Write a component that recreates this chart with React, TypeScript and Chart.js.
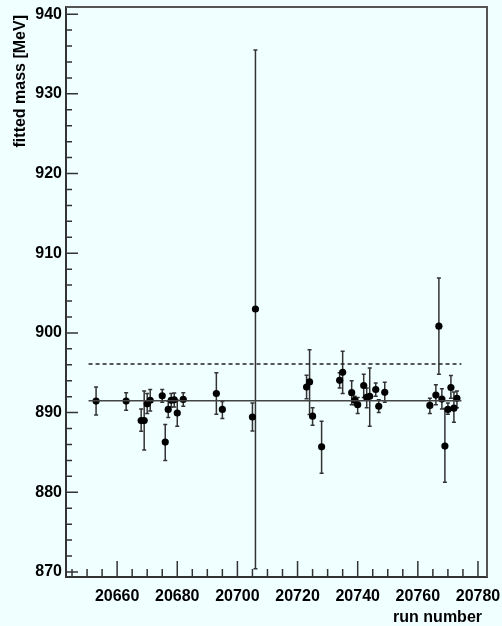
import React, { useEffect, useRef } from "react";
import { Chart, registerables } from "chart.js";

Chart.register(...registerables);

const runs = [20653, 20663, 20668, 20669, 20670, 20671, 20675, 20676, 20677, 20678, 20679, 20680, 20682, 20693, 20695, 20705, 20706, 20723, 20724, 20725, 20728, 20734, 20735, 20738, 20739, 20740, 20742, 20743, 20744, 20746, 20747, 20749, 20764, 20766, 20767, 20768, 20769, 20770, 20771, 20772, 20773];
const mass = [891.45, 891.45, 889.0, 889.0, 891.1, 891.55, 892.1, 886.3, 890.4, 891.55, 891.6, 889.95, 891.65, 892.4, 890.4, 889.45, 903.0, 893.2, 893.85, 889.55, 885.7, 894.05, 895.05, 892.5, 891.55, 891.0, 893.4, 891.9, 892.05, 892.9, 890.8, 892.55, 890.9, 892.2, 900.85, 891.7, 885.8, 890.4, 893.15, 890.55, 891.8];
const massLow = [889.7, 890.3, 887.65, 885.3, 889.9, 890.2, 891.3, 884.0, 889.4, 890.7, 890.7, 888.3, 890.8, 889.8, 889.25, 887.7, 870.4, 891.75, 889.75, 888.4, 882.4, 893.1, 892.4, 891.0, 891.0, 889.9, 891.9, 890.6, 888.3, 892.05, 890.0, 891.3, 889.9, 891.0, 894.8, 890.45, 881.25, 889.8, 891.8, 888.8, 890.6];
const massHigh = [893.2, 892.5, 890.45, 892.7, 892.4, 892.9, 892.9, 888.5, 891.45, 892.4, 892.45, 891.55, 892.5, 895.0, 891.4, 891.2, 935.5, 894.7, 897.9, 890.6, 888.9, 895.0, 897.7, 894.0, 892.05, 891.9, 894.8, 893.1, 895.6, 893.7, 891.6, 893.8, 891.8, 893.5, 906.9, 893.0, 890.5, 891.2, 894.65, 892.6, 892.7];

const meanRange = [20650.5, 20774.5];
const meanValue = 891.5;
const limitValue = 896.1;

const yTicks = [870, 880, 890, 900, 910, 920, 930, 940];
const xTicks = [20660, 20680, 20700, 20720, 20740, 20760, 20780];

const X_MIN = 20643;
const X_MAX = 20783;
const Y_MIN = 869.37;
const Y_MAX = 940.9;

const FONT = "'Liberation Sans', Arial, Helvetica, sans-serif";

const rootPlugin = {
  id: "rootStyle",
  beforeDraw(chart: any) {
    const { ctx } = chart;
    ctx.save();
    ctx.fillStyle = "#f0ffff";
    ctx.fillRect(0, 0, chart.width, chart.height);
    ctx.restore();
  },
  beforeDatasetsDraw(chart: any) {
    const { ctx, scales } = chart;
    const xs = scales.x;
    const ys = scales.y;
    ctx.save();
    ctx.strokeStyle = "#333";
    ctx.lineWidth = 1.5;
    for (let i = 0; i < runs.length; i++) {
      const px = xs.getPixelForValue(runs[i]);
      const lo = ys.getPixelForValue(massLow[i]);
      const hi = ys.getPixelForValue(massHigh[i]);
      ctx.beginPath();
      ctx.moveTo(px, lo);
      ctx.lineTo(px, hi);
      ctx.moveTo(px - 2, lo);
      ctx.lineTo(px + 2, lo);
      ctx.moveTo(px - 2, hi);
      ctx.lineTo(px + 2, hi);
      ctx.stroke();
    }
    ctx.restore();
  },
  afterDraw(chart: any) {
    const { ctx, scales, chartArea } = chart;
    const xs = scales.x;
    const ys = scales.y;
    ctx.save();
    ctx.strokeStyle = "#555";
    ctx.lineWidth = 2;
    ctx.beginPath();
    ctx.moveTo(chartArea.left, chartArea.top);
    ctx.lineTo(chartArea.right, chartArea.top);
    ctx.lineTo(chartArea.right, chartArea.bottom);
    ctx.stroke();
    ctx.strokeStyle = "#333";
    ctx.lineWidth = 1.5;
    ctx.beginPath();
    for (let v = 870; v <= 940; v += 2) {
      const py = ys.getPixelForValue(v);
      const len = v % 10 === 0 ? 12 : 6;
      ctx.moveTo(chartArea.left, py);
      ctx.lineTo(chartArea.left + len, py);
    }
    for (let v = 20645; v <= 20780; v += 5) {
      const px = xs.getPixelForValue(v);
      const len = v % 20 === 0 ? 16 : 8;
      ctx.moveTo(px, chartArea.bottom);
      ctx.lineTo(px, chartArea.bottom - len);
    }
    ctx.stroke();
    ctx.fillStyle = "#000";
    ctx.font = "bold 16px " + FONT;
    ctx.textAlign = "right";
    ctx.textBaseline = "alphabetic";
    ctx.fillText("run number", 482, 622);
    ctx.translate(25, 15);
    ctx.rotate(-Math.PI / 2);
    ctx.fillText("fitted mass [MeV]", 0, 0);
    ctx.restore();
  },
};

export default function App() {
  const ref = useRef<HTMLCanvasElement>(null);
  useEffect(() => {
    document.body.style.margin = "0";
    document.body.style.background = "#f0ffff";
    const chart = new Chart(ref.current as HTMLCanvasElement, {
      type: "scatter",
      data: {
        datasets: [
          {
            label: "mean",
            data: meanRange.map((x) => ({ x, y: meanValue })),
            showLine: true,
            borderColor: "#444",
            borderWidth: 1.5,
            pointRadius: 0,
          },
          {
            label: "limit",
            data: meanRange.map((x) => ({ x, y: limitValue })),
            showLine: true,
            borderColor: "#222",
            borderWidth: 1.5,
            borderDash: [4, 3],
            pointRadius: 0,
          },
          {
            label: "fit",
            data: runs.map((r, i) => ({ x: r, y: mass[i] })),
            backgroundColor: "#000",
            borderColor: "#000",
            pointRadius: 3.6,
            pointBorderWidth: 0,
          },
        ],
      },
      options: {
        animation: false,
        responsive: false,
        devicePixelRatio: 1,
        layout: { padding: { top: 7, right: 15, left: 0, bottom: 0 } },
        plugins: { legend: { display: false }, tooltip: { enabled: false } },
        scales: {
          x: {
            type: "linear",
            min: X_MIN,
            max: X_MAX,
            afterBuildTicks: (s: any) => {
              s.ticks = xTicks.map((v) => ({ value: v }));
            },
            afterFit: (s: any) => {
              s.height = 49;
              s.paddingLeft = 0;
              s.paddingRight = 0;
            },
            grid: { display: false, drawTicks: false },
            border: { display: true, color: "#333", width: 2 },
            ticks: {
              color: "#000",
              padding: 10,
              maxRotation: 0,
              autoSkip: false,
              font: { family: FONT, size: 16, weight: "bold" },
              callback: (v: any) => String(v),
            },
          },
          y: {
            type: "linear",
            min: Y_MIN,
            max: Y_MAX,
            afterBuildTicks: (s: any) => {
              s.ticks = yTicks.map((v) => ({ value: v }));
            },
            afterFit: (s: any) => {
              s.width = 66;
              s.paddingTop = 0;
              s.paddingBottom = 0;
            },
            grid: { display: false, drawTicks: false },
            border: { display: true, color: "#333", width: 2 },
            ticks: {
              color: "#000",
              padding: 4,
              autoSkip: false,
              font: { family: FONT, size: 16, weight: "bold" },
              callback: (v: any) => String(v),
            },
          },
        },
      },
      plugins: [rootPlugin],
    } as any);
    return () => chart.destroy();
  }, []);
  return (
    <div style={{ width: 502, height: 626, background: "#f0ffff" }}>
      <canvas ref={ref} width={502} height={626} style={{ display: "block" }} />
    </div>
  );
}
